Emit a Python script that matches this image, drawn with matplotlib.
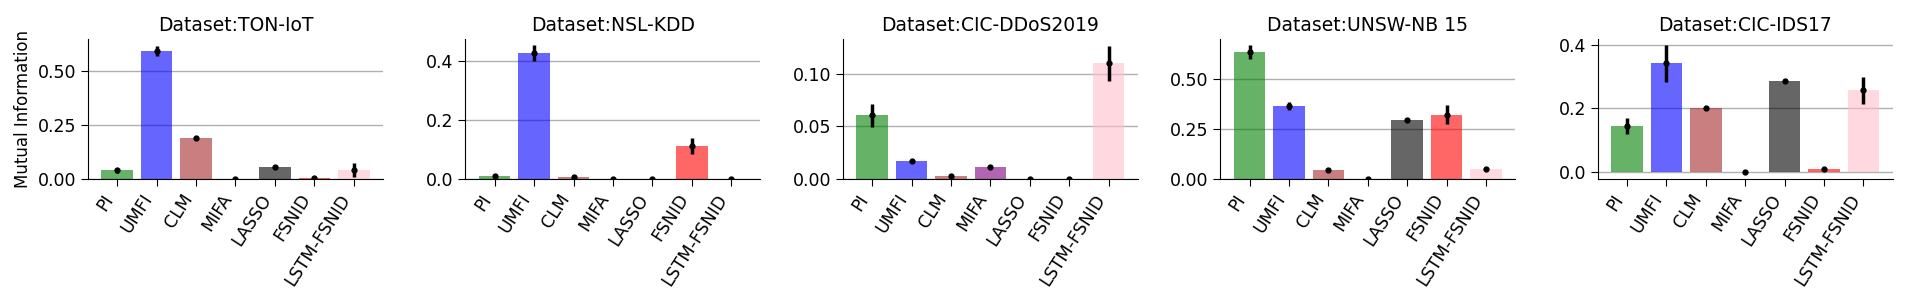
import matplotlib
matplotlib.use("Agg")
import matplotlib.pyplot as plt
import numpy as np

methods = ["PI", "UMFI", "CLM", "MIFA", "LASSO", "FSNID", "LSTM-FSNID"]
colors = ["green", "blue", "brown", "purple", "black", "red", "pink"]

datasets = ["TON-IoT", "NSL-KDD", "CIC-DDoS2019", "UNSW-NB 15", "CIC-IDS17"]

ton_iot = [0.040, 0.591, 0.189, 0.0, 0.055, 0.005, 0.040]
ton_iot_err = [0.012, 0.023, 0.003, 0.0, 0.003, 0.001, 0.032]
nsl_kdd = [0.011, 0.427, 0.008, 0.0, 0.0, 0.111, 0.0]
nsl_kdd_err = [0.002, 0.026, 0.003, 0.0, 0.0, 0.027, 0.0]
ddos2019 = [0.0606, 0.0175, 0.0025, 0.0117, 0.0, 0.0, 0.110]
ddos2019_err = [0.011, 0.002, 0.0005, 0.001, 0.0, 0.0, 0.0167]
unsw_nb15 = [0.632, 0.365, 0.047, 0.0, 0.293, 0.322, 0.052]
unsw_nb15_err = [0.035, 0.020, 0.003, 0.0, 0.004, 0.046, 0.003]
ids17 = [0.145, 0.342, 0.203, -0.001, 0.285, 0.008, 0.257]
ids17_err = [0.026, 0.058, 0.003, 0.0, 0.003, 0.002, 0.043]

values = [ton_iot, nsl_kdd, ddos2019, unsw_nb15, ids17]
errors = [ton_iot_err, nsl_kdd_err, ddos2019_err, unsw_nb15_err, ids17_err]
ylims = [(0, 0.646), (0, 0.475), (0, 0.1333), (0, 0.70), (-0.022, 0.419)]
yticks = [[0, 0.25, 0.5], [0, 0.2, 0.4], [0, 0.05, 0.10], [0, 0.25, 0.5], [0, 0.2, 0.4]]
yfmt = ["{:.2f}", "{:.1f}", "{:.2f}", "{:.2f}", "{:.1f}"]

fig, axes = plt.subplots(1, 5, figsize=(19.06, 3.06), dpi=100)
fig.subplots_adjust(left=0.0462, right=0.993, top=0.873, bottom=0.415, wspace=0.28)

x = np.arange(len(methods))
for i, ax in enumerate(axes):
    ax.bar(x, values[i], width=0.8, color=colors, alpha=0.6, zorder=2)
    ax.errorbar(x, values[i], yerr=errors[i], fmt="o", color="black",
                ms=3.5, elinewidth=2.5, capsize=0, zorder=3)
    ax.set_title("Dataset:" + datasets[i], fontsize=13.5)
    ax.set_ylim(*ylims[i])
    ax.set_yticks(yticks[i])
    ax.set_yticklabels([yfmt[i].format(t) for t in yticks[i]], fontsize=12.5)
    ax.set_xticks(x)
    ax.set_xticklabels(methods, rotation=57, ha="right", fontsize=12.5)
    ax.tick_params(length=5)
    ax.yaxis.grid(True, color="#b0b0b0", lw=1, zorder=0)
    ax.set_axisbelow(True)
    ax.spines["top"].set_visible(False)
    ax.spines["right"].set_visible(False)
    if i == 0:
        ax.set_ylabel("Mutual Information", fontsize=12)

fig.savefig("out.png", dpi=100)
